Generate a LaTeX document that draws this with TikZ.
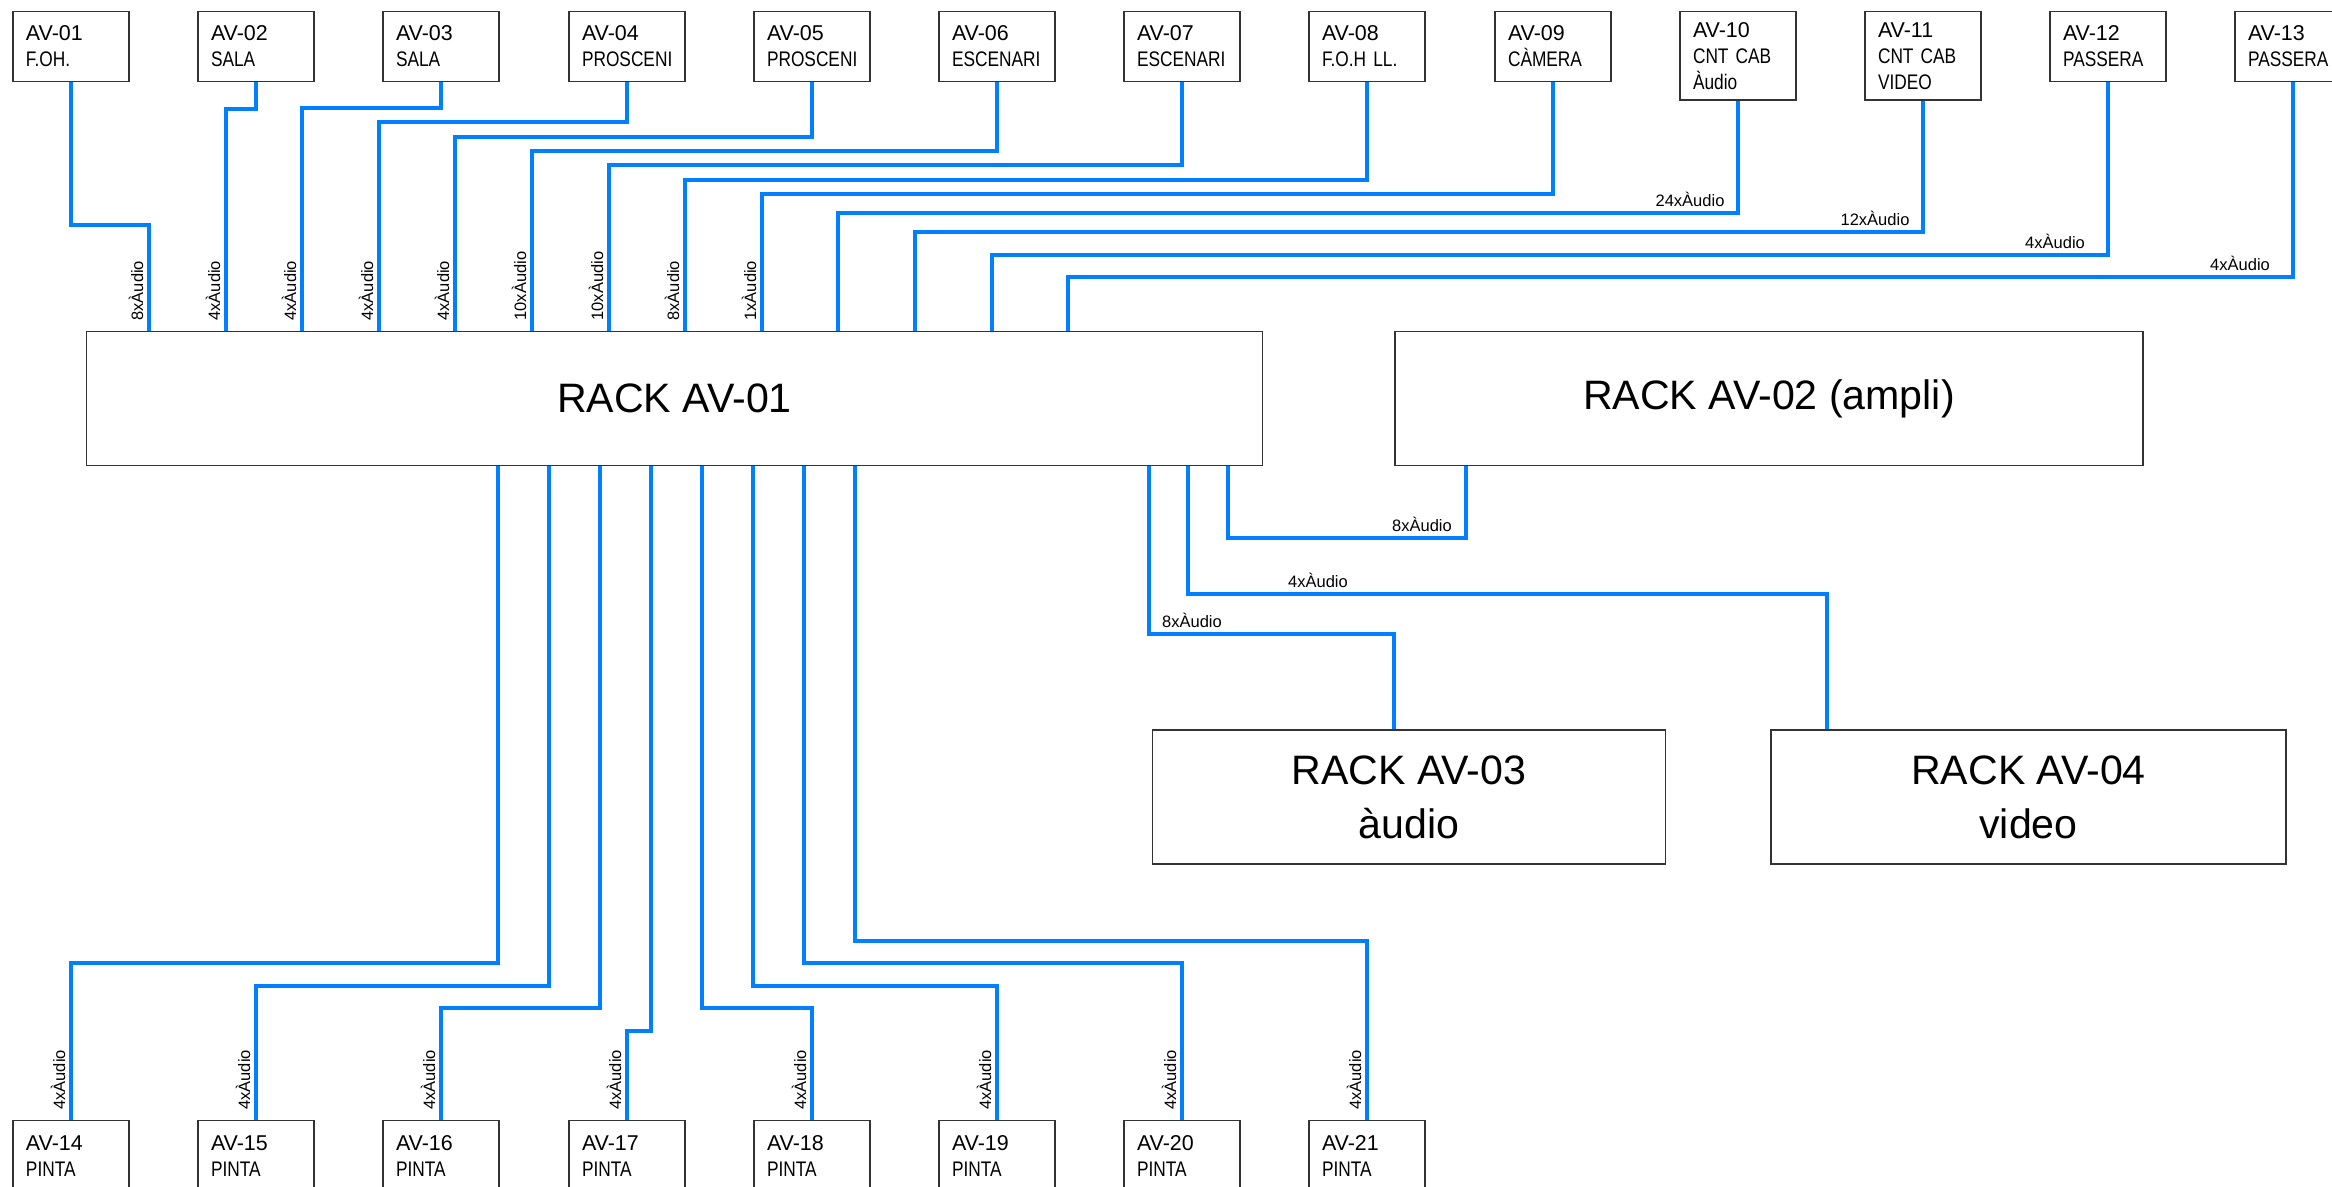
\documentclass[tikz,border=0pt]{standalone}
\usepackage{fontspec}
\setmainfont{Liberation Sans}
\newfontfamily\estret[FakeStretch=0.82]{Liberation Sans}
\definecolor{blaucable}{RGB}{0,128,255}
\newcommand{\lloc}[1]{{\estret\fontsize{6}{7.4}\selectfont #1}}

\begin{document}
\begin{tikzpicture}[line width=1.2pt,
  punt/.style={draw=black!80,line width=0.45pt,anchor=north,minimum height=0.70cm,text width=0.90cm,inner xsep=0.13cm,inner ysep=0pt,align=left,font=\fontsize{6.1}{7.4}\selectfont},
  puntalt/.style={punt,minimum height=0.886cm},
  rack/.style={draw=black!80,line width=0.45pt,minimum height=1.339cm,align=center,font=\fontsize{11.7}{15.2}\selectfont},
  cable/.style={draw=blaucable,line width=1.2pt},
  etiq/.style={font=\fontsize{4.7}{5}\selectfont,anchor=south,inner sep=1.2pt},
  etiqv/.style={etiq,rotate=90,anchor=south west,inner xsep=2.3pt,inner ysep=1pt}]
  \useasboundingbox (0,0) rectangle (23.32,11.87);
  % ===================== punts superiors =====================
  \node[punt] (av01) at (0.71,11.763) {AV-01\\\lloc{F.OH.}};
  \node[punt] (av02) at (2.56,11.763) {AV-02\\\lloc{SALA}};
  \node[punt] (av03) at (4.41,11.763) {AV-03\\\lloc{SALA}};
  \node[punt] (av04) at (6.27,11.763) {AV-04\\\lloc{PROSCENI}};
  \node[punt] (av05) at (8.12,11.763) {AV-05\\\lloc{PROSCENI}};
  \node[punt] (av06) at (9.97,11.763) {AV-06\\\lloc{ESCENARI}};
  \node[punt] (av07) at (11.82,11.763) {AV-07\\\lloc{ESCENARI}};
  \node[punt] (av08) at (13.67,11.763) {AV-08\\\lloc{F.O.H LL.}};
  \node[punt] (av09) at (15.53,11.763) {AV-09\\\lloc{CÀMERA}};
  \node[puntalt] (av10) at (17.38,11.763) {AV-10\\\lloc{CNT CAB}\\\lloc{Àudio}};
  \node[puntalt] (av11) at (19.23,11.763) {AV-11\\\lloc{CNT CAB}\\\lloc{VIDEO}};
  \node[punt] (av12) at (21.08,11.763) {AV-12\\\lloc{PASSERA}};
  \node[punt] (av13) at (22.93,11.763) {AV-13\\\lloc{PASSERA}};
  % ===================== punts inferiors (pinta) =====================
  \node[punt] (av14) at (0.71,0.671) {AV-14\\\lloc{PINTA}};
  \node[punt] (av15) at (2.56,0.671) {AV-15\\\lloc{PINTA}};
  \node[punt] (av16) at (4.41,0.671) {AV-16\\\lloc{PINTA}};
  \node[punt] (av17) at (6.27,0.671) {AV-17\\\lloc{PINTA}};
  \node[punt] (av18) at (8.12,0.671) {AV-18\\\lloc{PINTA}};
  \node[punt] (av19) at (9.97,0.671) {AV-19\\\lloc{PINTA}};
  \node[punt] (av20) at (11.82,0.671) {AV-20\\\lloc{PINTA}};
  \node[punt] (av21) at (13.67,0.671) {AV-21\\\lloc{PINTA}};
  % ===================== racks =====================
  \node[rack,minimum width=11.76cm] (rack01) at (6.745,7.885) {RACK AV-01};
  \node[rack,minimum width=7.48cm] (rack02) at (17.69,7.885) {RACK AV-02 (ampli)};
  \node[rack,minimum width=5.13cm] (rack03) at (14.09,3.898) {RACK AV-03\\àudio};
  \node[rack,minimum width=5.145cm] (rack04) at (20.285,3.898) {RACK AV-04\\video};
  % ===================== cables superiors -> rack 01 =====================
  \draw[cable] (av01.south) |- (1.49,9.62) -- (1.49,0 |- rack01.north) node[etiqv] (e01) {8xÀudio};
  \draw[cable] (av02.south) |- (2.26,10.78) -- (2.26,0 |- rack01.north) node[etiqv] (e02) {4xÀudio};
  \draw[cable] (av03.south) |- (3.02,10.79) -- (3.02,0 |- rack01.north) node[etiqv] (e03) {4xÀudio};
  \draw[cable] (av04.south) |- (3.79,10.65) -- (3.79,0 |- rack01.north) node[etiqv] (e04) {4xÀudio};
  \draw[cable] (av05.south) |- (4.55,10.50) -- (4.55,0 |- rack01.north) node[etiqv] (e05) {4xÀudio};
  \draw[cable] (av06.south) |- (5.32,10.36) -- (5.32,0 |- rack01.north) node[etiqv] (e06) {10xÀudio};
  \draw[cable] (av07.south) |- (6.09,10.22) -- (6.09,0 |- rack01.north) node[etiqv] (e07) {10xÀudio};
  \draw[cable] (av08.south) |- (6.85,10.07) -- (6.85,0 |- rack01.north) node[etiqv] (e08) {8xÀudio};
  \draw[cable] (av09.south) |- (7.62,9.93) -- (7.62,0 |- rack01.north) node[etiqv] (e09) {1xÀudio};
  \draw[cable] (av10.south) |- node[etiq,xshift=-0.48cm] (e10) {24xÀudio} (8.38,9.74) -- (8.38,0 |- rack01.north);
  \draw[cable] (av11.south) |- node[etiq,xshift=-0.48cm] (e11) {12xÀudio} (9.15,9.55) -- (9.15,0 |- rack01.north);
  \draw[cable] (av12.south) |- node[etiq,xshift=-0.53cm] (e12) {4xÀudio} (9.92,9.32) -- (9.92,0 |- rack01.north);
  \draw[cable] (av13.south) |- node[etiq,xshift=-0.53cm] (e13) {4xÀudio} (10.68,9.10) -- (10.68,0 |- rack01.north);
  % ===================== rack 01 -> pinta =====================
  \draw[cable] (4.98,0 |- rack01.south) |- (0.71,2.24) -- (av14.north) node[etiqv] (e14) {4xÀudio};
  \draw[cable] (5.49,0 |- rack01.south) |- (2.56,2.01) -- (av15.north) node[etiqv] (e15) {4xÀudio};
  \draw[cable] (6.00,0 |- rack01.south) |- (4.41,1.79) -- (av16.north) node[etiqv] (e16) {4xÀudio};
  \draw[cable] (6.51,0 |- rack01.south) |- (6.27,1.56) -- (av17.north) node[etiqv] (e17) {4xÀudio};
  \draw[cable] (7.02,0 |- rack01.south) |- (8.12,1.79) -- (av18.north) node[etiqv] (e18) {4xÀudio};
  \draw[cable] (7.53,0 |- rack01.south) |- (9.97,2.01) -- (av19.north) node[etiqv] (e19) {4xÀudio};
  \draw[cable] (8.04,0 |- rack01.south) |- (11.82,2.24) -- (av20.north) node[etiqv] (e20) {4xÀudio};
  \draw[cable] (8.55,0 |- rack01.south) |- (13.67,2.46) -- (av21.north) node[etiqv] (e21) {4xÀudio};
  % ===================== rack 01 -> racks 02, 03, 04 =====================
  \draw[cable] (11.49,0 |- rack01.south) |- node[etiq,xshift=0.43cm] (e22) {8xÀudio} (13.94,5.53) -- (13.94,0 |- rack03.north);
  \draw[cable] (11.88,0 |- rack01.south) |- node[etiq,xshift=1.30cm] (e23) {4xÀudio} (18.27,5.93) -- (18.27,0 |- rack04.north);
  \draw[cable] (12.28,0 |- rack01.south) |- node[etiq,xshift=1.94cm] (e24) {8xÀudio} (14.66,6.49) -- (14.66,0 |- rack02.south);
\end{tikzpicture}
\end{document}
